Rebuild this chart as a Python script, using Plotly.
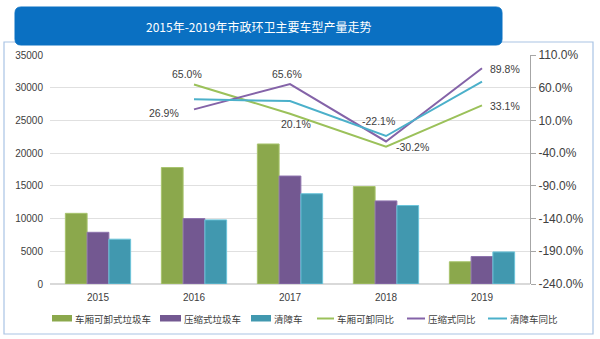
import plotly.graph_objects as go

years = ["2015", "2016", "2017", "2018", "2019"]

# production (units)
detach_bin = [10800, 17800, 21400, 14900, 3400]   # 车厢可卸式垃圾车
compress_bin = [7900, 10000, 16500, 12700, 4200]  # 压缩式垃圾车
wrecker = [6850, 9800, 13800, 12000, 4900]        # 清障车

# year-on-year growth (%)
detach_yoy = [None, 65.0, 20.1, -30.2, 33.1]
compress_yoy = [None, 26.9, 65.6, -22.1, 89.8]
wrecker_yoy = [None, 42.2, 39.7, -13.8, 69.2]

bar_names = ["车厢可卸式垃圾车", "压缩式垃圾车", "清障车"]
line_names = ["车厢可卸同比", "压缩式同比", "清障车同比"]
title_text = "2015年-2019年市政环卫主要车型产量走势"

left_ticks = [0, 5000, 10000, 15000, 20000, 25000, 30000, 35000]
right_ticks = [110, 60, 10, -40, -90, -140, -190, -240]

FONT = "Liberation Sans, Noto Sans CJK SC, sans-serif"
CJK = "Noto Sans CJK SC, sans-serif"
TXT = "#404040"

# plot area in pixels: x 50..530, y 55..284
def px(x):
    return (x - 50) / 480
def py(y):
    return (284 - y) / 229

fig = go.Figure()

bar_fill = ["#8BA84C", "#735891", "#4198AF"]
bar_edge = ["#A8C46E", "#8E73AE", "#6CC4DA"]
for name, vals, c, e in zip(bar_names, [detach_bin, compress_bin, wrecker], bar_fill, bar_edge):
    fig.add_trace(go.Bar(x=years, y=vals, name=name, marker=dict(color=c, line=dict(color=e, width=1)),
                         yaxis="y"))

line_cols = ["#9BC15A", "#8463A8", "#4BB0CA"]
for name, vals, c in zip(line_names, [detach_yoy, compress_yoy, wrecker_yoy], line_cols):
    fig.add_trace(go.Scatter(x=years, y=vals, name=name, mode="lines",
                             line=dict(color=c, width=2), yaxis="y2"))

# data labels (green & purple series); x given as category index
label_series = [detach_yoy, compress_yoy]
label_offsets = [
    [(-7, 10), (6, -10), (26, 0), (23, -1)],
    [(-30, -4), (-3, 10), (-8, 20), (23, -1)],
]
for ser, offs in zip(label_series, label_offsets):
    for i in range(1, 5):
        v = ser[i]
        dx, dy = offs[i - 1]
        fig.add_annotation(x=i, y=v, xref="x", yref="y2", text=f"{v:.1f}%",
                           showarrow=False, xshift=dx, yshift=dy, xanchor="center", yanchor="middle",
                           font=dict(family=FONT, size=10.5, color=TXT))

# outer frame and title banner
fig.add_shape(type="rect", xref="paper", yref="paper", x0=px(4), x1=px(593), y0=py(334), y1=py(42),
              line=dict(color="#A9C4E4", width=1.2), layer="below")
r = 6
x0p, x1p, y0p, y1p = 15, 502, 7, 45
path = (f"M {px(x0p + r)} {py(y0p)} L {px(x1p - r)} {py(y0p)} "
        f"Q {px(x1p)} {py(y0p)} {px(x1p)} {py(y0p + r)} L {px(x1p)} {py(y1p - r)} "
        f"Q {px(x1p)} {py(y1p)} {px(x1p - r)} {py(y1p)} L {px(x0p + r)} {py(y1p)} "
        f"Q {px(x0p)} {py(y1p)} {px(x0p)} {py(y1p - r)} L {px(x0p)} {py(y0p + r)} "
        f"Q {px(x0p)} {py(y0p)} {px(x0p + r)} {py(y0p)} Z")
fig.add_shape(type="path", xref="paper", yref="paper", path=path,
              fillcolor="#0A70C2", line=dict(color="#0A70C2", width=1), layer="above")
fig.add_annotation(xref="paper", yref="paper", x=px(258), y=py(27), text=title_text, showarrow=False,
                   xanchor="center", yanchor="middle",
                   font=dict(family=CJK, size=12, color="white"))

# custom legend (swatch geometry matching the reference)
legend_names = bar_names + line_names
legend_cols = bar_fill + line_cols
legend_x = [(52, 72), (160, 181), (251, 271), (317, 334), (407, 425), (488, 507)]
ly = 318.5
for k, (name, col, (a, b)) in enumerate(zip(legend_names, legend_cols, legend_x)):
    if k < 3:
        fig.add_shape(type="rect", xref="paper", yref="paper", x0=px(a), x1=px(b),
                      y0=py(ly + 3), y1=py(ly - 3.5), fillcolor=col, line=dict(width=0))
    else:
        fig.add_shape(type="line", xref="paper", yref="paper", x0=px(a), x1=px(b),
                      y0=py(ly), y1=py(ly), line=dict(color=col, width=2))
    fig.add_annotation(xref="paper", yref="paper", x=px(b + 1), y=py(ly), text=name,
                       showarrow=False, xanchor="left", yanchor="middle",
                       font=dict(family=CJK, size=9.5, color=TXT))

fig.update_layout(
    width=600, height=339,
    margin=dict(l=50, r=70, t=55, b=55),
    paper_bgcolor="white", plot_bgcolor="white",
    font=dict(family=FONT, size=10, color=TXT),
    barmode="group", bargap=0.32, bargroupgap=0,
    showlegend=False,
    xaxis=dict(type="category", range=[-0.5, 4.5], showgrid=False, showline=False, ticks="",
               ticklabelstandoff=6, tickfont=dict(size=10, color=TXT)),
    yaxis=dict(range=[0, 35000], tickvals=left_ticks, tickformat="d", showgrid=True,
               gridcolor="#E0E0E0", gridwidth=1, zeroline=True, zerolinecolor="#D9D9D9",
               showline=False, ticklabelstandoff=6, tickfont=dict(size=10, color=TXT)),
    yaxis2=dict(range=[-240, 110], tickvals=right_ticks,
                ticktext=[f"{v:.1f}%" for v in right_ticks],
                overlaying="y", side="right", showgrid=False, zeroline=False,
                showline=True, linecolor="#A6A6A6", linewidth=1,
                ticks="outside", ticklen=5, tickcolor="#A6A6A6",
                tickfont=dict(size=12, color=TXT)),
)

fig.write_html("out.html")
